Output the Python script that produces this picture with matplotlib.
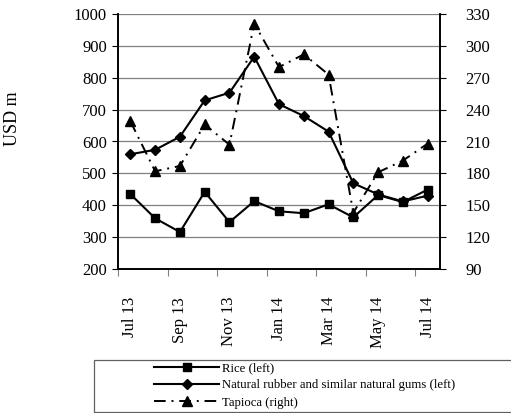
import matplotlib
matplotlib.use("Agg")
import matplotlib.pyplot as plt
from matplotlib.patches import Rectangle

plt.rcParams['font.family'] = ['Liberation Serif', 'DejaVu Serif']

months = ["Jul 13", "Aug 13", "Sep 13", "Oct 13", "Nov 13", "Dec 13", "Jan 14",
          "Feb 14", "Mar 14", "Apr 14", "May 14", "Jun 14", "Jul 14"]
rice = [435, 359, 316, 442, 347, 413, 381, 375, 403, 362, 432, 410, 449]
rubber = [560, 574, 615, 729, 753, 866, 717, 680, 631, 469, 434, 412, 430]
tapioca = [229, 182, 187, 226, 207, 321, 280, 292, 273, 143, 181, 192, 208]

left_ticks = list(range(200, 1001, 100))
right_ticks = list(range(90, 331, 30))

fig = plt.figure(figsize=(5.11, 4.13), dpi=100)
ax = fig.add_axes([118/511, 1 - 269/413, 322/511, 255/413])
ax2 = ax.twinx()

x = list(range(len(months)))
l1, = ax.plot(x, rice, color='black', lw=1.5, marker='s', markersize=6, label='Rice (left)')
l2, = ax.plot(x, rubber, color='black', lw=1.5, marker='D', markersize=5,
              label='Natural rubber and similar natural gums (left)')
l3, = ax2.plot(x, tapioca, color='black', lw=1.4, marker='^', markersize=7,
               linestyle=(0, (6, 3, 1, 3)), label='Tapioca (right)')

ax.set_xlim(-0.5, len(months) - 0.5)
ax.set_ylim(200, 1000)
ax2.set_ylim(90, 330)
ax.set_yticks(left_ticks)
ax2.set_yticks(right_ticks)
ax.yaxis.grid(True, color='#808080', lw=0.9)
ax.set_axisbelow(True)

# tick marks between categories, labels on every other month
ax.set_xticks([i - 0.5 for i in range(0, len(months), 2)])
ax.set_xticklabels([])
ax.set_xticks(x[::2], minor=True)
ax.set_xticklabels(months[::2], minor=True, rotation=90, fontsize=12)
ax.tick_params(axis='x', which='major', length=5, color='#808080')
ax.tick_params(axis='x', which='minor', length=0, pad=20)
ax.tick_params(axis='y', length=4, labelsize=12, pad=4)
ax2.tick_params(axis='y', length=4, labelsize=12, pad=14)

for a in (ax, ax2):
    a.spines['top'].set_visible(False)
    for s in ('left', 'right', 'bottom'):
        a.spines[s].set_linewidth(1.2)

ax.set_ylabel("USD m", fontsize=13)
ax.yaxis.set_label_coords(-0.30, 0.59)

fig.patches.append(Rectangle((94/511, 1/413), 0.84, 52/413, transform=fig.transFigure,
                             fill=False, edgecolor='#606060', lw=0.9))
fig.legend(handles=[l1, l2, l3], loc='upper left', bbox_to_anchor=(154/511, 1 - 362/413),
           frameon=False, fontsize=9.2, handlelength=5.1, handletextpad=0.2,
           labelspacing=0.42, borderpad=0, borderaxespad=0)

fig.savefig("out.png", dpi=100)
